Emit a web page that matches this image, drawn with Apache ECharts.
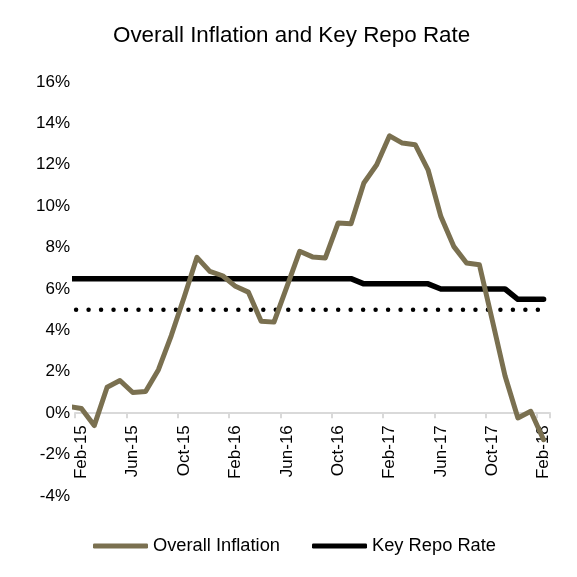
<!DOCTYPE html>
<html>
<head>
<meta charset="utf-8">
<script src="https://cdn.jsdelivr.net/npm/echarts@6/dist/echarts.min.js"></script>
<style>
html,body{margin:0;padding:0;background:#fff;}
#chart{width:577px;height:577px;}
</style>
</head>
<body>
<div id="chart"></div>
<script>
// Categories (Jan-15 is only a lead-in point, clipped at the plot edge)
const categories = ['Jan-15','Feb-15','Mar-15','Apr-15','May-15','Jun-15','Jul-15','Aug-15','Sep-15','Oct-15','Nov-15','Dec-15',
  'Jan-16','Feb-16','Mar-16','Apr-16','May-16','Jun-16','Jul-16','Aug-16','Sep-16','Oct-16','Nov-16','Dec-16',
  'Jan-17','Feb-17','Mar-17','Apr-17','May-17','Jun-17','Jul-17','Aug-17','Sep-17','Oct-17','Nov-17','Dec-17',
  'Jan-18','Feb-18'];
const overallInflation = [0.33, 0.23, -0.6, 1.25, 1.58, 1.0, 1.05, 2.1, 3.75, 5.6, 7.53, 6.85,
  6.64, 6.13, 5.85, 4.44, 4.4, 6.1, 7.82, 7.55, 7.5, 9.19, 9.15, 11.12,
  12.0, 13.4, 13.05, 12.97, 11.76, 9.5, 8.06, 7.26, 7.17, 4.5, 1.8, -0.23,
  0.09, -1.28];
const keyRepoRate = [6.5, 6.5, 6.5, 6.5, 6.5, 6.5, 6.5, 6.5, 6.5, 6.5, 6.5, 6.5,
  6.5, 6.5, 6.5, 6.5, 6.5, 6.5, 6.5, 6.5, 6.5, 6.5, 6.5, 6.25,
  6.25, 6.25, 6.25, 6.25, 6.25, 6.0, 6.0, 6.0, 6.0, 6.0, 6.0, 5.5,
  5.5, 5.5];
const inflationTarget = categories.map(() => 5);
const yTicks = {min: -4, max: 16, step: 2};
const firstShown = 1; // Feb-15

const W = 577, H = 577;
const grid = {left: 75, right: 27, top: 82, bottom: 81};
const plotH = H - grid.top - grid.bottom;
// move the category axis up to the zero line
const zeroOffset = -plotH * (0 - yTicks.min) / (yTicks.max - yTicks.min);

const chart = echarts.init(document.getElementById('chart'), null, {renderer: 'canvas', width: W, height: H});
const showEvery4 = (idx) => idx >= firstShown && (idx - firstShown) % 4 === 0;
const FF = 'Liberation Sans, Arial, sans-serif';
chart.setOption({
  animation: false,
  backgroundColor: '#ffffff',
  textStyle: {fontFamily: FF},
  title: {
    text: 'Overall Inflation and Key Repo Rate',
    left: 108, top: 20,
    textStyle: {fontSize: 22.4, fontWeight: 'normal', color: '#000', fontFamily: FF}
  },
  legend: {
    left: 88, top: 532,
    data: [{name: 'Overall Inflation', icon: 'roundRect'}, {name: 'Key Repo Rate', icon: 'roundRect'}],
    itemWidth: 55, itemHeight: 5, itemGap: 32,
    textStyle: {fontSize: 18.3, color: '#000', fontFamily: FF}
  },
  grid: {left: grid.left, right: grid.right, top: grid.top, bottom: grid.bottom, containLabel: false},
  xAxis: {
    type: 'category',
    data: categories,
    min: firstShown,
    boundaryGap: true,
    position: 'bottom',
    offset: zeroOffset,
    axisLine: {onZero: false, lineStyle: {color: '#D9D9D9', width: 2}},
    axisTick: {show: true, interval: showEvery4, length: 5, lineStyle: {color: '#D9D9D9', width: 2}},
    axisLabel: {rotate: 90, interval: showEvery4, fontSize: 17, color: '#000', margin: 12, fontFamily: FF},
    splitLine: {show: false}
  },
  yAxis: {
    type: 'value',
    min: yTicks.min, max: yTicks.max, interval: yTicks.step,
    axisLine: {show: false}, axisTick: {show: false}, splitLine: {show: false},
    axisLabel: {formatter: '{value}%', fontSize: 17, color: '#000', margin: 5, fontFamily: FF}
  },
  series: [
    {
      name: 'Target', type: 'line', data: inflationTarget, symbol: 'none', silent: true,
      lineStyle: {color: '#000', width: 4.5, type: [0.01, 12.47], cap: 'round', dashOffset: 4.97},
      z: 1
    },
    {
      name: 'Key Repo Rate', type: 'line', data: keyRepoRate, symbol: 'none',
      itemStyle: {color: '#000'},
      lineStyle: {color: '#000', width: 5.5, cap: 'round', join: 'round'},
      z: 2
    },
    {
      name: 'Overall Inflation', type: 'line', data: overallInflation, symbol: 'none',
      itemStyle: {color: '#7A7050'},
      lineStyle: {color: '#7A7050', width: 5, cap: 'round', join: 'round'},
      z: 3
    }
  ]
});
</script>
</body>
</html>
